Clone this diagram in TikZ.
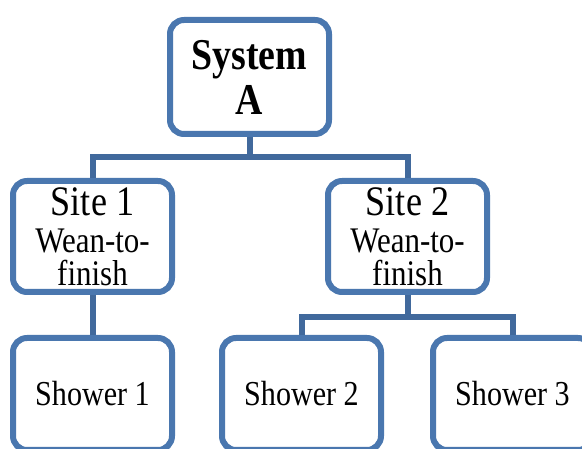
\documentclass[tikz,border=0pt]{standalone}
\usepackage{fontspec}
\setmainfont[FakeStretch=0.86]{Liberation Serif}
\definecolor{boxblue}{HTML}{4A77AF}
\definecolor{linkblue}{HTML}{41699C}
\tikzset{
	unit/.style={draw=boxblue, line width=6pt, rounded corners=14pt, fill=white, minimum width=159pt, align=center, inner sep=0pt},
	link/.style={draw=linkblue, line width=6pt},
}
\begin{document}
\begin{tikzpicture}[x=1pt,y=-1pt]
	\useasboundingbox (0,0) rectangle (582,449);
	\clip (0,0) rectangle (582,449);
	\node[unit, minimum height=114pt, font=\fontsize{44}{45}\selectfont\bfseries] (system) at (249.5,77) {System\\A};
	\node[unit, minimum height=111pt, font=\fontsize{36}{33}\selectfont] (site1) at (92.5,236.5) {{\fontsize{42}{42}\selectfont Site 1}\\[4pt]Wean-to-\\finish};
	\node[unit, minimum height=111pt, font=\fontsize{36}{33}\selectfont] (site2) at (407.5,236.5) {{\fontsize{42}{42}\selectfont Site 2}\\[4pt]Wean-to-\\finish};
	\node[unit, minimum height=112pt, font=\fontsize{35}{34}\selectfont] (shower1) at (92.5,394) {Shower 1};
	\node[unit, minimum height=112pt, font=\fontsize{35}{34}\selectfont] (shower2) at (301.5,394) {Shower 2};
	\node[unit, minimum height=112pt, font=\fontsize{35}{34}\selectfont] (shower3) at (512.5,394) {Shower 3};
	\draw[link]
		(system.south) -- ++(0,20) -| (site1.north)
		(system.south) -- ++(0,20) -| (site2.north)
		(site1.south) -- (shower1.north)
		(site2.south) -- ++(0,22) -| (shower2.north)
		(site2.south) -- ++(0,22) -| (shower3.north)
		;
\end{tikzpicture}
\end{document}
